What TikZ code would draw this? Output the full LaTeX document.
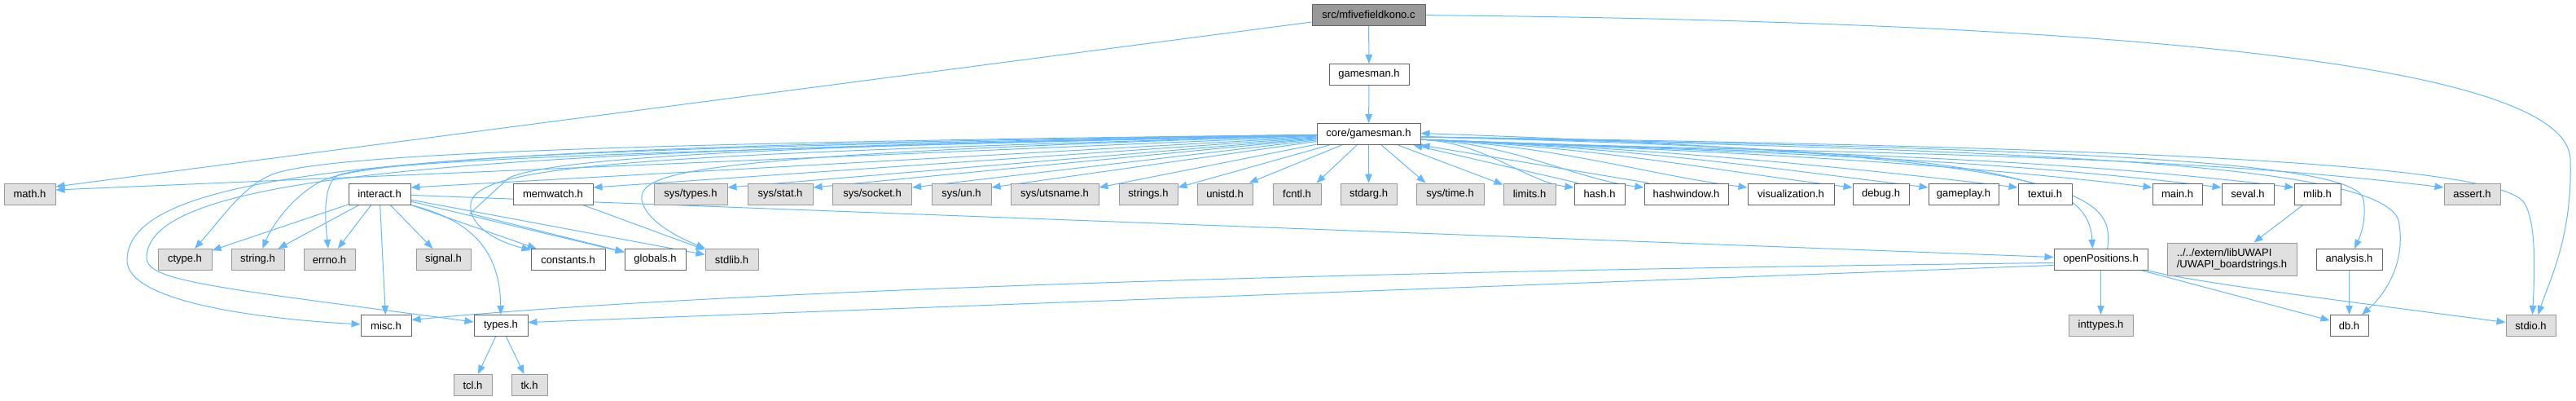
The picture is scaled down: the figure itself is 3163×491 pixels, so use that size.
\documentclass[tikz,border=0pt]{standalone}
\usepackage{fontspec}
\setmainfont{Liberation Sans}
\usetikzlibrary{arrows.meta,backgrounds}
\definecolor{edgec}{HTML}{63B8FF}
\definecolor{bord}{HTML}{666666}
\definecolor{gbord}{HTML}{999999}
\definecolor{gfill}{HTML}{E0E0E0}
\definecolor{mfill}{HTML}{999999}
\begin{document}
\begin{tikzpicture}[x=1pt,y=-1pt,
  box/.style={rectangle,draw,line width=1pt,inner sep=0pt,minimum height=26pt,font=\fontsize{13}{14}\selectfont,text=black},
  wbox/.style={box,fill=white,draw=bord},
  gbox/.style={box,fill=gfill,draw=gbord},
  mbox/.style={box,fill=mfill,draw=bord},
  conn/.style={draw=edgec,line width=1pt,-{Triangle[length=11pt,width=8.5pt]}}]
\useasboundingbox (0,0) rectangle (3163,491);
% row 1-3
\node[mbox,minimum width=139pt] (src) at (1680.5,18) {src/mfivefieldkono.c};
\node[wbox,minimum width=98pt] (gamesman) at (1681,91.5) {gamesman.h};
\node[wbox,minimum width=127pt] (core) at (1680.5,164.5) {core/gamesman.h};
% row 4
\node[gbox,minimum width=63pt] (math) at (36.5,238) {math.h};
\node[wbox,minimum width=76pt] (interact) at (466,238) {interact.h};
\node[wbox,minimum width=98pt] (memwatch) at (679,238) {memwatch.h};
\node[gbox,minimum width=90pt] (systypes) at (848,238) {sys/types.h};
\node[gbox,minimum width=80pt] (sysstat) at (958,238) {sys/stat.h};
\node[gbox,minimum width=97pt] (syssocket) at (1071,238) {sys/socket.h};
\node[gbox,minimum width=73pt] (sysun) at (1180.5,238) {sys/un.h};
\node[gbox,minimum width=108pt] (sysutsname) at (1295,238) {sys/utsname.h};
\node[gbox,minimum width=72pt] (strings) at (1410,238) {strings.h};
\node[gbox,minimum width=68pt] (unistd) at (1504,238) {unistd.h};
\node[gbox,minimum width=59pt] (fcntl) at (1592.5,238) {fcntl.h};
\node[gbox,minimum width=69pt] (stdarg) at (1680.5,238) {stdarg.h};
\node[gbox,minimum width=83pt] (systime) at (1780.5,238) {sys/time.h};
\node[gbox,minimum width=64pt] (limits) at (1878,238) {limits.h};
\node[wbox,minimum width=62pt] (hash) at (1964,238) {hash.h};
\node[wbox,minimum width=103pt] (hashwindow) at (2070.5,238) {hashwindow.h};
\node[wbox,minimum width=106pt] (visualization) at (2199,238) {visualization.h};
\node[wbox,minimum width=69pt] (debug) at (2309.5,238) {debug.h};
\node[wbox,minimum width=86pt] (gameplay) at (2411,238) {gameplay.h};
\node[wbox,minimum width=66pt] (textui) at (2511,238) {textui.h};
\node[wbox,minimum width=61pt] (mainh) at (2673.5,238) {main.h};
\node[wbox,minimum width=64pt] (seval) at (2760,238) {seval.h};
\node[wbox,minimum width=57pt] (mlib) at (2845.5,238) {mlib.h};
\node[gbox,minimum width=69pt] (assert) at (3035.5,238) {assert.h};
% row 5
\node[gbox,minimum width=66pt] (ctype) at (227,318.5) {ctype.h};
\node[gbox,minimum width=65pt] (string) at (316.5,318.5) {string.h};
\node[gbox,minimum width=63pt] (errno) at (404.5,318.5) {errno.h};
\node[gbox,minimum width=67pt] (signal) at (544.5,318.5) {signal.h};
\node[wbox,minimum width=91pt] (constants) at (697.5,318.5) {constants.h};
\node[wbox,minimum width=75pt] (globals) at (804.5,318.5) {globals.h};
\node[gbox,minimum width=65pt] (stdlib) at (898.5,318.5) {stdlib.h};
\node[wbox,minimum width=115pt] (openpos) at (2579.5,318.5) {openPositions.h};
\node[gbox,minimum width=159pt,minimum height=40pt,align=left] (uwapi) at (2740.5,318) {../../extern/libUWAPI\\/UWAPI\_boardstrings.h};
\node[wbox,minimum width=81pt] (analysis) at (2884.5,318.5) {analysis.h};
% row 6
\node[wbox,minimum width=62pt] (misc) at (474,399.5) {misc.h};
\node[wbox,minimum width=66pt] (types) at (615,399.5) {types.h};
\node[gbox,minimum width=79pt] (inttypes) at (2579.5,399.5) {inttypes.h};
\node[wbox,minimum width=47pt] (db) at (2884.5,399.5) {db.h};
\node[gbox,minimum width=61pt] (stdio) at (3107.5,399.5) {stdio.h};
% row 7
\node[gbox,minimum width=47pt] (tcl) at (580.5,472.5) {tcl.h};
\node[gbox,minimum width=44pt] (tk) at (650,472.5) {tk.h};

\begin{pgfonlayer}{background}
% from src
\draw[conn] (src) -- (gamesman);
\draw[conn] (gamesman) -- (core);
\draw[conn] (src) -- ([yshift=9pt]math.east);
\draw[conn] (src) .. controls (2750,28) and (3152,95) .. (3156,195) .. controls (3159,290) and (3130,345) .. ([xshift=9pt]stdio.north);
% core -> row 4 left
\draw[conn] (core) -- ([yshift=5pt]math.east);
\foreach \n in {interact,memwatch,systypes,sysstat,syssocket,sysun,sysutsname,strings}
  \draw[conn] (core) -- ([yshift=8pt]\n.east);
\draw[conn] (core) -- ([xshift=-5pt]unistd.north east);
\draw[conn] (core) -- ([xshift=-6pt]fcntl.north east);
\draw[conn] (core) -- (stdarg);
\draw[conn] (core) -- ([xshift=12pt]systime.north west);
\draw[conn] (core) -- ([yshift=-2pt]limits.north west);
% core -> row 4 right
\foreach \n/\ax/\ay/\bx/\by in {hash/1823/174/1874/223, hashwindow/1856/175/1935/220,
   visualization/1906/177/2024/215, debug/1958/179/2115/211, gameplay/1995/180/2180/207,
   textui/2038/182/2257/204, mainh/2104/185/2373/198, seval/2138/186/2432/194,
   mlib/2174/187/2494/191, assert/2247/190/2624/185}
  \draw[conn] (core.-6) .. controls (\ax,\ay) and (\bx,\by) .. ([yshift=8pt]\n.west);
% back edges
\draw[conn] ([xshift=5pt]hash.north west) -- ([xshift=-9pt]core.south east);
\draw[conn] ([xshift=6pt]hashwindow.north west) -- (core.south east);
\draw[conn] (openpos.59) .. controls (2596,240) and (2570,192) .. ([yshift=1pt]core.east);
% core -> lower left
\draw[conn] (core) .. controls (800,175) and (420,188) .. (340,212) .. controls (300,225) and (275,265) .. (ctype);
\draw[conn] (core) .. controls (800,180) and (460,192) .. (395,222) .. controls (360,240) and (335,275) .. (string);
\draw[conn] (core) .. controls (800,185) and (470,196) .. (415,215) .. controls (398,225) and (398,260) .. (errno);
\draw[conn] (core) .. controls (560,180) and (160,200) .. (156,318) .. controls (153,372) and (330,392) .. (misc);
\draw[conn] (core) .. controls (600,185) and (184,210) .. (180,315) .. controls (178,345) and (260,352) .. (types);
\draw[conn] (core) .. controls (800,190) and (585,200) .. (578,250) .. controls (575,275) and (605,295) .. (constants);
\draw[conn] (core) .. controls (900,180) and (680,195) .. (625,218) -- (577,262) -- (globals);
\draw[conn] (core) .. controls (850,190) and (785,210) .. (788,245) .. controls (792,270) and (830,290) .. (stdlib);
% core -> lower right
\draw[conn] (core.-3) .. controls (2450,185) and (2565,215) .. (openpos.127);
\draw[conn] (core.-3) .. controls (2500,182) and (2895,195) .. (2902,245) .. controls (2906,270) and (2898,290) .. (analysis);
\draw[conn] (core.-3) .. controls (2500,185) and (2920,200) .. (2945,270) .. controls (2955,320) and (2930,360) .. (db);
\draw[conn] (core.-3) .. controls (2600,180) and (3075,200) .. (3100,250) .. controls (3115,275) and (3112,340) .. ([xshift=2pt]stdio.north);
% interact
\foreach \n in {ctype,string,errno,signal,misc,constants,globals,stdlib}
  \draw[conn] (interact) -- (\n);
\draw[conn] (interact.south east) .. controls (570,268) and (614,300) .. (types);
\draw[conn] (interact) -- ([yshift=3pt]openpos.west);
% others
\draw[conn] (memwatch) -- (stdlib);
\draw[conn] ([yshift=-4pt]openpos.west) .. controls (1700,332) and (900,355) .. ([yshift=7pt]misc.east);
\draw[conn] ([yshift=-7pt]openpos.west) -- ([yshift=4pt]types.east);
\draw[conn] (openpos) -- (inttypes);
\draw[conn] (openpos) -- (db);
\draw[conn] (openpos.south east) .. controls (2690,345) and (2820,362) .. (stdio);
\draw[conn] (analysis) -- (db);
\draw[conn] (mlib) -- (uwapi);
\draw[conn] (types) -- (tcl);
\draw[conn] (types) -- (tk);
\end{pgfonlayer}
\end{tikzpicture}
\end{document}
